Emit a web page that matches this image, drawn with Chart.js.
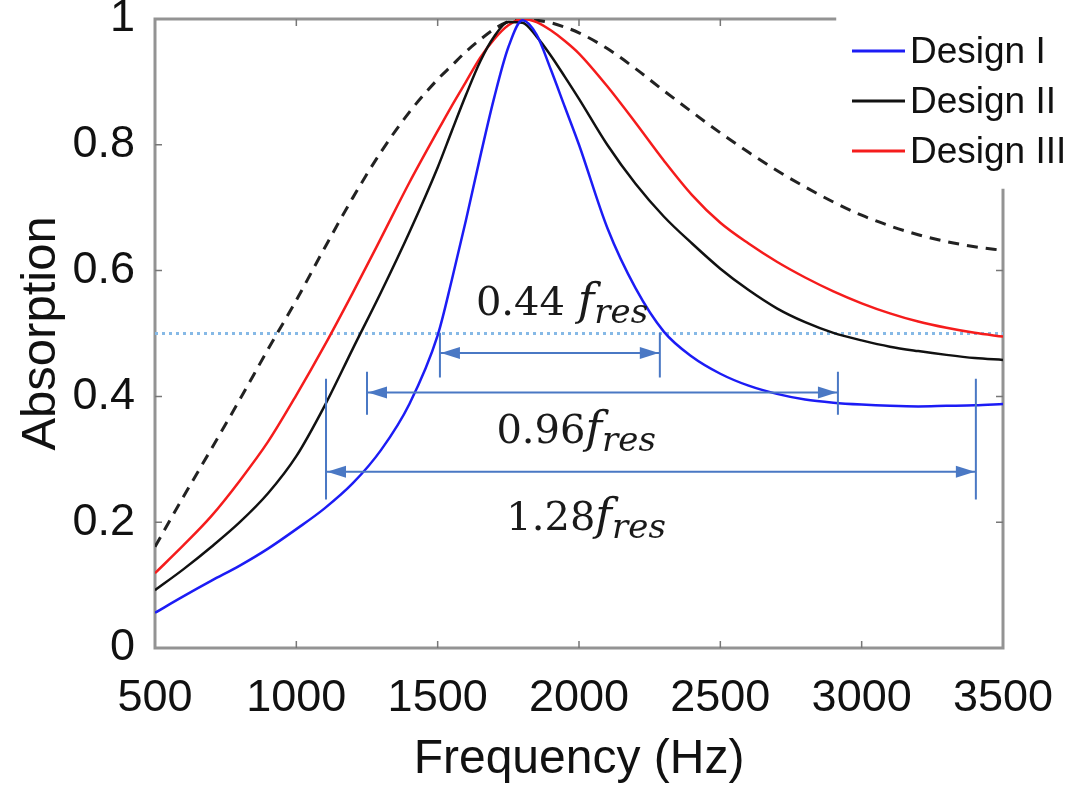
<!DOCTYPE html>
<html>
<head>
<meta charset="utf-8">
<script src="https://cdn.jsdelivr.net/npm/chart.js@4.4.0/dist/chart.umd.min.js"></script>
<style>
    html, body { margin: 0; padding: 0; background: #fff; }
    .chart-box { width: 1089px; height: 795px; }
</style>
</head>
<body>
<div class="chart-box"><canvas id="absorptionChart"></canvas></div>
<script>
// Frequency (Hz) samples shared by every curve
const frequencies = [500, 600, 700, 800, 900, 1000, 1100, 1200, 1300, 1400, 1500, 1550, 1600, 1650, 1700, 1750, 1800, 1850, 1900, 1950, 2000, 2100, 2200, 2300, 2400, 2500, 2600, 2700, 2800, 2900, 3000, 3100, 3200, 3300, 3400, 3500];

const designI = [0.056, 0.082, 0.107, 0.131, 0.158, 0.189, 0.222, 0.262, 0.315, 0.388, 0.497, 0.585, 0.68, 0.78, 0.875, 0.955, 0.998, 0.975, 0.92, 0.86, 0.80, 0.668, 0.572, 0.503, 0.463, 0.436, 0.417, 0.404, 0.395, 0.390, 0.387, 0.385, 0.384, 0.385, 0.386, 0.388];
const designII = [0.092, 0.125, 0.161, 0.200, 0.246, 0.305, 0.385, 0.476, 0.566, 0.661, 0.764, 0.822, 0.879, 0.932, 0.972, 0.995, 0.994, 0.972, 0.942, 0.908, 0.873, 0.80, 0.738, 0.686, 0.643, 0.603, 0.569, 0.540, 0.518, 0.501, 0.489, 0.479, 0.472, 0.466, 0.461, 0.458];
const designIII = [0.119, 0.163, 0.21, 0.266, 0.328, 0.402, 0.481, 0.565, 0.652, 0.74, 0.822, 0.862, 0.9, 0.938, 0.968, 0.99, 1.0, 0.995, 0.982, 0.965, 0.945, 0.893, 0.835, 0.775, 0.72, 0.676, 0.643, 0.614, 0.589, 0.567, 0.548, 0.532, 0.519, 0.509, 0.501, 0.495];
const referenceCurve = [0.161, 0.24, 0.317, 0.395, 0.475, 0.553, 0.636, 0.716, 0.789, 0.852, 0.904, 0.926, 0.948, 0.967, 0.984, 0.996, 1.0, 0.998, 0.994, 0.987, 0.978, 0.953, 0.921, 0.886, 0.852, 0.819, 0.788, 0.759, 0.733, 0.709, 0.688, 0.671, 0.657, 0.646, 0.638, 0.632];

const halfLevel = 0.5;

const xTicks = [500, 1000, 1500, 2000, 2500, 3000, 3500];
const yTicks = [0, 0.2, 0.4, 0.6, 0.8, 1];

// Bandwidth markers (Hz / absorption)
const bandText = ['0.44 ', '0.96', '1.28'];
const bandFrom = [1508, 1250, 1105];
const bandTo = [2286, 2916, 3404];
const bandLevel = [0.469, 0.406, 0.28];
const barHigh = [0.501, 0.439, 0.428];
const barLow = [0.43, 0.371, 0.236];
const textFreq = [1940, 1990, 2025];
const textLevel = [0.53, 0.326, 0.188];

// where the frame is cut for the legend
const topFrameEnd = 2910;
const rightFrameStart = 0.73;

const toPoints = (vals) => vals.map((v, i) => ({ x: frequencies[i], y: v }));

const sansFont = '"Liberation Sans", Arial, sans-serif';
const serifFont = '"DejaVu Serif", "Liberation Serif", serif';
const markColor = '#4a78c4';

const frameAndTicks = {
    id: 'frameAndTicks',
    beforeDatasetsDraw(chart) {
        const { ctx, chartArea: { left, right, top, bottom }, scales: { x, y } } = chart;
        const topEnd = x.getPixelForValue(topFrameEnd);
        const rightStart = y.getPixelForValue(rightFrameStart);

        ctx.save();
        ctx.strokeStyle = '#939393';
        ctx.lineWidth = 3;
        ctx.beginPath();
        ctx.moveTo(topEnd, top);
        ctx.lineTo(left, top);
        ctx.lineTo(left, bottom);
        ctx.lineTo(right, bottom);
        ctx.lineTo(right, rightStart);
        ctx.stroke();

        // small inner ticks
        ctx.lineWidth = 1.5;
        ctx.strokeStyle = '#777';
        ctx.beginPath();
        xTicks.slice(1, -1).forEach((t) => {
            const px = x.getPixelForValue(t);
            ctx.moveTo(px, bottom);
            ctx.lineTo(px, bottom - 7);
            if (t < topFrameEnd) {
                ctx.moveTo(px, top);
                ctx.lineTo(px, top + 7);
            }
        });
        yTicks.slice(1, -1).forEach((t) => {
            const py = y.getPixelForValue(t);
            ctx.moveTo(left, py);
            ctx.lineTo(left + 7, py);
            if (t < rightFrameStart) {
                ctx.moveTo(right, py);
                ctx.lineTo(right - 7, py);
            }
        });
        ctx.stroke();
        ctx.restore();
    }
};

const drawArrowHead = (ctx, tipX, tipY, dir) => {
    ctx.beginPath();
    ctx.moveTo(tipX, tipY);
    ctx.lineTo(tipX - dir * 19, tipY - 6);
    ctx.lineTo(tipX - dir * 19, tipY + 6);
    ctx.closePath();
    ctx.fill();
};

const bandMarkers = {
    id: 'bandMarkers',
    afterDatasetsDraw(chart) {
        const { ctx, scales: { x, y } } = chart;
        ctx.save();
        ctx.strokeStyle = markColor;
        ctx.fillStyle = markColor;
        ctx.lineWidth = 2;

        bandFrom.forEach((from, i) => {
            const x1 = x.getPixelForValue(from);
            const x2 = x.getPixelForValue(bandTo[i]);
            const yl = y.getPixelForValue(bandLevel[i]);
            const yTop = y.getPixelForValue(barHigh[i]);
            const yBot = y.getPixelForValue(barLow[i]);

            ctx.beginPath();
            ctx.moveTo(x1, yTop); ctx.lineTo(x1, yBot);
            ctx.moveTo(x2, yTop); ctx.lineTo(x2, yBot);
            ctx.moveTo(x1, yl); ctx.lineTo(x2, yl);
            ctx.stroke();

            drawArrowHead(ctx, x1 + 1, yl, -1);
            drawArrowHead(ctx, x2 - 1, yl, 1);
        });

        // labels like "0.44 f_res"
        ctx.fillStyle = '#1a1a1a';
        ctx.textBaseline = 'alphabetic';
        bandText.forEach((txt, i) => {
            const numFont = `40px ${serifFont}`;
            const fFont = `italic 45px ${serifFont}`;
            const subFont = `italic 34px ${serifFont}`;
            ctx.font = numFont;
            const wNum = ctx.measureText(txt).width;
            ctx.font = fFont;
            const wF = ctx.measureText('f').width;
            ctx.font = subFont;
            const wSub = ctx.measureText('res').width;
            const total = wNum + wF + wSub;

            let px = x.getPixelForValue(textFreq[i]) - total / 2;
            const py = y.getPixelForValue(textLevel[i]);

            ctx.font = numFont;
            ctx.fillText(txt, px, py);
            px += wNum;
            ctx.font = fFont;
            ctx.fillText('f', px, py);
            px += wF;
            ctx.font = subFont;
            ctx.fillText('res', px, py + 8);
        });
        ctx.restore();
    }
};

const sideLegend = {
    id: 'sideLegend',
    afterDraw(chart) {
        const { ctx, chartArea: { top } } = chart;
        ctx.save();
        ctx.font = `37px ${sansFont}`;
        ctx.textBaseline = 'middle';
        ctx.textAlign = 'left';
        chart.data.datasets.slice(0, 3).forEach((ds, i) => {
            const ly = top + 32 + i * 50;
            ctx.strokeStyle = ds.borderColor;
            ctx.lineWidth = 3;
            ctx.beginPath();
            ctx.moveTo(852, ly);
            ctx.lineTo(905, ly);
            ctx.stroke();
            ctx.fillStyle = '#111';
            ctx.fillText(ds.label, 910, ly + 2);
        });
        ctx.restore();
    }
};

const initChart = () => {
    const canvas = document.getElementById('absorptionChart');

    new Chart(canvas, {
        type: 'line',
        data: {
            datasets: [
                {
                    label: 'Design I',
                    data: toPoints(designI),
                    borderColor: '#1c1cf5',
                    borderWidth: 2.5,
                },
                {
                    label: 'Design II',
                    data: toPoints(designII),
                    borderColor: '#111111',
                    borderWidth: 2.5,
                },
                {
                    label: 'Design III',
                    data: toPoints(designIII),
                    borderColor: '#f51c1c',
                    borderWidth: 2.5,
                },
                {
                    label: 'Reference',
                    data: toPoints(referenceCurve),
                    borderColor: '#222222',
                    borderWidth: 3,
                    borderDash: [11, 8],
                },
                {
                    label: 'Half absorption',
                    data: [{ x: xTicks[0], y: halfLevel }, { x: xTicks[xTicks.length - 1], y: halfLevel }],
                    borderColor: '#86b9e6',
                    borderWidth: 3,
                    borderDash: [3, 4],
                }
            ]
        },
        options: {
            responsive: true,
            maintainAspectRatio: false,
            animation: false,
            layout: {
                // top gap comes from the y tick label padding (12 + half label height)
                padding: { top: 0, right: 86, left: 0, bottom: 0 }
            },
            elements: {
                point: { radius: 0 },
                line: { cubicInterpolationMode: 'monotone', fill: false }
            },
            plugins: {
                legend: { display: false },
                tooltip: { enabled: false }
            },
            scales: {
                x: {
                    type: 'linear',
                    min: 500,
                    max: 3500,
                    afterBuildTicks: (scale) => {
                        scale.ticks = xTicks.map((v) => ({ value: v }));
                    },
                    afterFit: (scale) => { scale.height = 147; },
                    grid: { display: false },
                    border: { display: false },
                    ticks: {
                        maxRotation: 0,
                        padding: 16,
                        color: '#111',
                        font: { family: sansFont, size: 45 },
                        callback: (v) => String(v)
                    },
                    title: {
                        display: true,
                        text: 'Frequency (Hz)',
                        color: '#111',
                        font: { family: sansFont, size: 48 },
                        padding: { top: 0, bottom: 6 }
                    }
                },
                y: {
                    min: 0,
                    max: 1,
                    afterBuildTicks: (scale) => {
                        scale.ticks = yTicks.map((v) => ({ value: v }));
                    },
                    afterFit: (scale) => { scale.width = 155; },
                    grid: { display: false },
                    border: { display: false },
                    ticks: {
                        padding: 12,
                        color: '#111',
                        font: { family: sansFont, size: 45, lineHeight: 0.31 },
                        callback: (v) => String(Math.round(v * 10) / 10)
                    },
                    title: {
                        display: true,
                        text: 'Absorption',
                        color: '#111',
                        font: { family: sansFont, size: 49 },
                        padding: { top: 12, bottom: 0 }
                    }
                }
            }
        },
        plugins: [frameAndTicks, bandMarkers, sideLegend]
    });
};

document.addEventListener('DOMContentLoaded', initChart);
</script>
</body>
</html>
